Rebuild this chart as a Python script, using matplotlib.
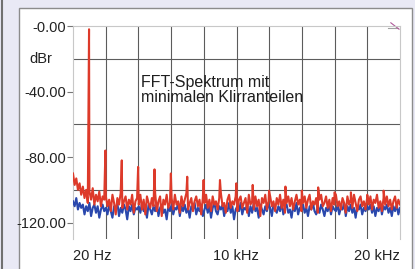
import numpy as np
import matplotlib.pyplot as plt
from matplotlib.patches import Rectangle
from matplotlib.lines import Line2D

# noise floor, one value per FFT bin (20 Hz .. 20 kHz)
red_floor = [
    -90, -97, -93, -100, -96, -103, -98, -105, -100, -108, -101, -106, -99, -109, -103, -107, -101, -110, -104, -106,
    -104, -110, -106, -113, -103, -108, -115, -105, -109, -102, -111, -107, -104, -112, -106, -109, -103, -114, -107, -105,
    -109, -103, -112, -106, -115, -104, -108, -111, -105, -110, -102, -113, -107, -104, -116, -106, -109, -103, -111, -108,
    -105, -112, -103, -109, -107, -114, -104, -110, -106, -102, -112, -108, -105, -113, -107, -104, -110, -106, -115, -105,
    -108, -103, -111, -106, -113, -104, -109, -107, -112, -105, -102, -110, -108, -114, -106, -103, -111, -107, -109, -104,
    -113, -106, -104, -111, -108, -105, -114, -103, -109, -107, -112, -104, -110, -106, -116, -105, -108, -103, -112, -107,
    -104, -110, -107, -113, -105, -109, -103, -111, -106, -114, -108, -104, -110, -105, -112, -107, -103, -109, -106, -113,
    -108, -104, -111, -106, -103, -112, -107, -109, -105, -114, -106, -103, -110, -108, -104, -111, -106, -113, -105, -109,
    -103, -110, -107, -112, -105, -108, -114, -104, -109, -106, -111, -103, -108, -113, -106, -104, -110, -107, -112, -105,
    -109, -104, -112, -106, -108, -103, -111, -107, -113, -105, -109, -104, -110, -106, -112, -107, -104, -111, -106, -109,
]
blue_floor = [
    -107, -110, -105, -112, -108, -111, -109, -115, -110, -113, -108, -116, -111, -109, -114, -110, -117, -112, -109, -113,
    -111, -115, -109, -113, -117, -110, -112, -108, -116, -111, -114, -109, -112, -118, -110, -113, -109, -115, -111, -112,
    -110, -114, -108, -113, -111, -117, -109, -112, -115, -110, -113, -108, -116, -111, -109, -114, -112, -118, -110, -113,
    -109, -115, -111, -112, -108, -116, -110, -113, -109, -114, -111, -117, -110, -112, -108, -115, -111, -113, -109, -116,
    -112, -109, -114, -110, -117, -111, -108, -113, -115, -110, -112, -109, -116, -111, -113, -108, -114, -110, -118, -112,
    -110, -113, -108, -115, -111, -112, -109, -116, -110, -114, -108, -113, -111, -117, -109, -112, -115, -110, -113, -109,
    -111, -116, -109, -112, -114, -110, -113, -108, -115, -111, -109, -114, -112, -117, -110, -113, -108, -115, -111, -112,
    -109, -114, -111, -116, -110, -112, -108, -113, -115, -110, -114, -109, -112, -116, -111, -113, -109, -115, -110, -112,
    -113, -109, -115, -111, -112, -108, -116, -110, -113, -109, -114, -111, -117, -110, -112, -109, -115, -111, -113, -110,
    -112, -109, -114, -110, -116, -111, -113, -108, -115, -110, -112, -109, -114, -111, -116, -110, -113, -109, -115, -111,
]

# fundamental + harmonics (red channel)
harm_hz = [1000, 2000, 3000, 4000, 5000, 6000, 7000, 8000, 9000, 10000,
           11000, 12000, 13000, 14000, 15000, 16000, 17000, 18000, 19000]
harm_db = [-2, -76, -82, -86, -87.5, -90, -92, -94, -94, -96,
           -97, -100.5, -98, -100.5, -98.5, -101.5, -101.5, -103, -100.5]

y_ticks = [0, -40, -80, -120]
y_labels = ['-0.00', '-40.00', '-80.00', '-120.00']
x_labels = ['20 Hz', '10 kHz', '20 kHz']
x_label_pos = [20, 10000, 20000]

note = 'FFT-Spektrum mit\nminimalen Klirranteilen'

plt.rcParams['font.family'] = ['Liberation Sans', 'DejaVu Sans']

fig = plt.figure(figsize=(4.15, 2.69), dpi=100)
fig.patch.set_facecolor('#e9e9f5')
W, H = 415.0, 269.0
fig.patches.append(Rectangle((19 / W, -0.05), 393 / W, 1.05 - 8 / H, transform=fig.transFigure,
                             facecolor='white', edgecolor='#8c8c8c', lw=1.0, zorder=-10))
fig.lines.append(Line2D([2 / W, 2 / W], [0, 1], transform=fig.transFigure, color='#707070', lw=1.5))

ax = fig.add_axes([73 / W, 1 - 239 / H, 327 / W, 213 / H])

bins = np.linspace(20, 20000, len(red_floor))
f_red = np.concatenate([bins, harm_hz])
y_red = np.concatenate([red_floor, harm_db])
order = np.argsort(f_red, kind='stable')

ax.plot(bins, blue_floor, color='#2a48ad', lw=1.5, zorder=3)
ax.plot(f_red[order], y_red[order], color='#dd3a2a', lw=1.5, zorder=4)

ax.set_xlim(20, 20000)
ax.set_ylim(-130, 0)

ax.set_yticks(y_ticks)
ax.set_yticklabels(y_labels)
ax.set_yticks(np.arange(-120, 1, 20), minor=True)
ax.set_xticks(np.linspace(20, 20000, 11), minor=True)
ax.set_xticks(x_label_pos)
ax.set_xticklabels(x_labels)
ax.get_xticklabels()[0].set_ha('left')
ax.get_xticklabels()[2].set_ha('right')

ax.tick_params(axis='y', which='major', length=4, width=0.8, color='#777777', pad=1,
               labelsize=10.5, labelcolor='#222222')
ax.tick_params(axis='x', which='major', length=0, pad=7, labelsize=10.5, labelcolor='#222222')
ax.tick_params(which='minor', length=0)
ax.grid(which='minor', color='#5c5c5c', lw=0.8)
ax.grid(which='major', visible=False)
ax.set_axisbelow(True)

for side in ['top', 'right', 'left']:
    ax.spines[side].set_color('#c8c8c8')
    ax.spines[side].set_linewidth(0.8)
ax.spines['bottom'].set_visible(False)

ax.text(-21 / 327, (-20 + 130) / 130, 'dBr', transform=ax.transAxes, ha='right', va='center',
        fontsize=10.5, color='#222222')

ax.text(4200, -30, note, ha='left', va='top', fontsize=11.5, color='#1e1e1e', linespacing=0.95)

# small cursor mark in the top right corner
ax.plot([0.962, 0.995], [0.99, 0.99], transform=ax.transAxes, color='#a0a0a0', lw=0.8, clip_on=False)
ax.plot([0.972, 0.997], [1.015, 0.985], transform=ax.transAxes, color='#b05a9a', lw=0.8, clip_on=False)

fig.savefig('out.png', dpi=100, facecolor=fig.get_facecolor())
